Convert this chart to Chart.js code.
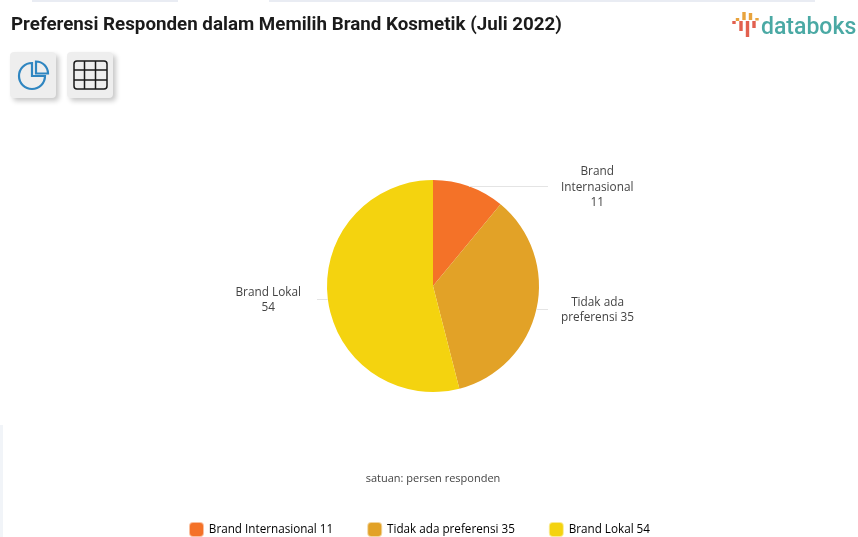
<!DOCTYPE html>
<html>
<head>
<meta charset="utf-8">
<script src="https://cdn.jsdelivr.net/npm/chart.js@4"></script>
<style>
    html, body { margin: 0; padding: 0; background: #fff; }
    #kanvas { position: absolute; left: 0; top: 0; }
    .garis { position: absolute; background: #e9ecf3; }
    h1 {
        position: absolute; left: 11px; top: 13px; margin: 0;
        font: 700 18.75px Roboto, sans-serif; color: #1b1b1b; white-space: nowrap;
    }
    .tombol {
        position: absolute; top: 52px; width: 46px; height: 46px;
        background: #eeeeee; border-radius: 4px;
        box-shadow: 3px 3px 5px rgba(0, 0, 0, 0.22);
    }
    .tombol svg { position: absolute; left: 0; top: 0; }
    #logo { position: absolute; left: 728px; top: 8px; }
    #satuan {
        position: absolute; left: 233px; width: 400px; top: 470px; text-align: center;
        font: 11px "Open Sans", sans-serif; color: #444;
    }
</style>
</head>
<body>
<div class="garis" style="left:32px;top:0;width:146px;height:2px"></div>
<div class="garis" style="left:269px;top:0;width:546px;height:2px"></div>
<div class="garis" style="left:0;top:425px;width:3px;height:112px;background:#f1f4f8"></div>

<canvas id="kanvas" width="858" height="537"></canvas>

<h1>Preferensi Responden dalam Memilih Brand Kosmetik (Juli 2022)</h1>

<div class="tombol" style="left:10px">
    <svg width="46" height="46" fill="none" stroke="#2f86c1" stroke-width="2.2">
        <path d="M22 11 A13 13 0 1 0 35 24 L22 24 Z"/>
        <path d="M26 9.5 A12 12 0 0 1 38 21.5 L26 21.5 Z"/>
    </svg>
</div>
<div class="tombol" style="left:67px">
    <svg width="46" height="46" fill="none" stroke="#1a1a1a" stroke-width="1.5">
        <rect x="7" y="9" width="33" height="28" rx="3"/>
        <path d="M7 18H40M7 28H40M17.5 9V37M28.5 9V37"/>
    </svg>
</div>

<svg id="logo" width="130" height="34">
    <g stroke-width="3.4" fill="none">
        <path d="M6 13V16M13 13V23M19.5 13V29M26 13V20" stroke="#e2604f"/>
        <path d="M9.5 10V13M16 4V12M22.5 5V12M29 10V12.5" stroke="#e8a33d"/>
    </g>
    <text x="33" y="26" font-family="Roboto, sans-serif" font-weight="500" font-size="23" fill="#4aa9a4">databoks</text>
</svg>

<div id="satuan">satuan: persen responden</div>

<script>
var kategori = ["Brand Internasional", "Tidak ada preferensi", "Brand Lokal"];
var nilai = [11, 35, 54];
var warna = ["#f47228", "#e2a227", "#f4d30f"];
var warnaTepi = ["rgba(244,114,40,0.45)", "rgba(226,162,39,0.45)", "rgba(244,211,15,0.45)"];
// baris teks label di samping irisan
var labelBaris = [
    ["Brand", "Internasional", "11"],
    ["Tidak ada", "preferensi 35"],
    ["Brand Lokal", "54"]
];

var FONT = '"Open Sans", sans-serif';

// garis penunjuk dan label di luar pie
var labelLuar = {
    id: "labelLuar",
    afterDatasetsDraw: function (chart) {
        var ctx = chart.ctx;
        var arcs = chart.getDatasetMeta(0).data;
        ctx.save();
        ctx.font = "11.8px " + FONT;
        ctx.textBaseline = "middle";
        ctx.textAlign = "center";
        arcs.forEach(function (arc, i) {
            var tengah = (arc.startAngle + arc.endAngle) / 2;
            var x0 = arc.x + Math.cos(tengah) * arc.outerRadius;
            var y0 = arc.y + Math.sin(tengah) * arc.outerRadius;
            var kanan = x0 > arc.x;
            var x1 = arc.x + (kanan ? 115 : -116);

            ctx.strokeStyle = "#e4e4e4";
            ctx.lineWidth = 1;
            ctx.beginPath();
            ctx.moveTo(x0, Math.round(y0) + 0.5);
            ctx.lineTo(x1, Math.round(y0) + 0.5);
            ctx.stroke();

            var baris = labelBaris[i];
            var lebar = 0;
            baris.forEach(function (b) { lebar = Math.max(lebar, ctx.measureText(b).width); });
            var xTeks = kanan ? x1 + 13 + lebar / 2 : x1 - 16 - lebar / 2;
            var yTeks = y0 + 1 - (baris.length - 1) * 15.5 / 2;
            ctx.fillStyle = "#444";
            baris.forEach(function (b, n) {
                ctx.fillText(b, xTeks, yTeks + n * 15.5);
            });
        });
        ctx.restore();
    }
};

// legend diturunkan ke dasar kanvas dan digeser sedikit ke kiri dari pusat pie
var geserLegend = {
    id: "geserLegend",
    afterLayout: function (chart) {
        chart.legend.left -= 13;
        chart.legend.right -= 13;
        chart.legend.top += 96;
        chart.legend.bottom += 96;
    }
};

new Chart(document.getElementById("kanvas").getContext("2d"), {
    type: "pie",
    data: {
        labels: kategori,
        datasets: [{
            data: nilai,
            backgroundColor: warna,
            borderWidth: 0
        }]
    },
    options: {
        responsive: false,
        animation: false,
        layout: { padding: { top: 180, left: 8, right: 0, bottom: 87 } },
        plugins: {
            tooltip: { enabled: false },
            legend: {
                position: "bottom",
                labels: {
                    font: { family: FONT, size: 11.7 },
                    color: "#444",
                    boxWidth: 13,
                    boxHeight: 13,
                    padding: 35,
                    useBorderRadius: true,
                    borderRadius: 3,
                    generateLabels: function (chart) {
                        return kategori.map(function (k, i) {
                            return {
                                text: k + " " + nilai[i],
                                fillStyle: warna[i],
                                strokeStyle: warnaTepi[i],
                                lineWidth: 2,
                                borderRadius: 3,
                                index: i
                            };
                        });
                    }
                }
            }
        }
    },
    plugins: [labelLuar, geserLegend]
});
</script>
</body>
</html>
